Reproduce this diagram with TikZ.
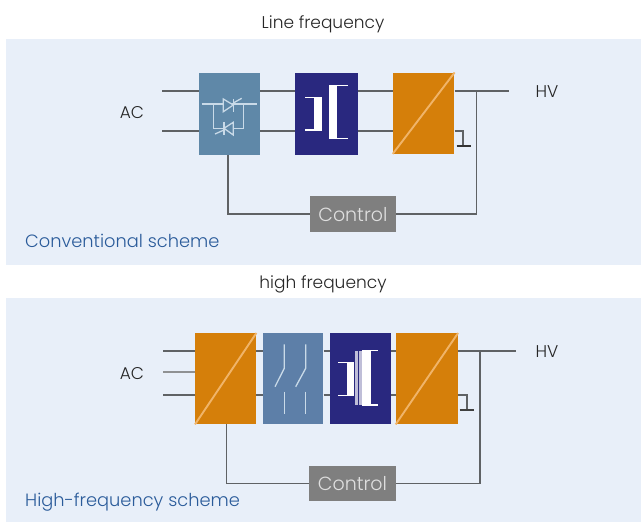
\documentclass[tikz,border=0pt]{standalone}
\usepackage{fontspec}
\setmainfont{Poppins}[UprightFont=* Light]
\definecolor{panel}{HTML}{E8EFF9}
\definecolor{steelA}{HTML}{5F88A8}
\definecolor{steelB}{HTML}{5D7FA8}
\definecolor{navy}{HTML}{29287F}
\definecolor{orangeB}{HTML}{D57F0A}
\definecolor{ctrl}{HTML}{7F7F7F}
\definecolor{wire}{HTML}{5F6265}
\definecolor{schemeblue}{HTML}{2A5B9A}
\definecolor{diag}{HTML}{F0B469}
\definecolor{glyph}{HTML}{C9DAE8}
\tikzset{
  x=1pt,y=-1pt,
  panelbox/.style={fill=panel,draw=none,inner sep=0pt,anchor=north west},
  unit/.style={draw=none,inner sep=0pt,anchor=north west},
  ctrlbox/.style={fill=ctrl,inner sep=0pt,anchor=north west,text=white!75!ctrl,font=\fontsize{19}{19}\selectfont},
  wireline/.style={draw=wire,line width=1.6pt},
  thin wire/.style={draw=wire!70,line width=1.2pt},
  ctlwire/.style={draw=wire,line width=1.5pt},
  groundbar/.style={draw=black!80,line width=2pt},
  lab/.style={inner sep=0pt,text=black!85,font=\fontsize{17}{17}\selectfont},
  schemelab/.style={inner sep=0pt,anchor=west,text=schemeblue,font=\fontsize{17.8}{17.8}\selectfont},
  glyphline/.style={draw=glyph,line width=1.3pt},
  whiteline/.style={draw=white,line width=1.2pt},
  diagline/.style={draw=diag,line width=1.9pt},
}
\begin{document}
\begin{tikzpicture}
\useasboundingbox (0,0) rectangle (641,522);
% panels
\node[panelbox,minimum width=635pt,minimum height=226pt] (p1) at (6,39) {};
\node[panelbox,minimum width=635pt,minimum height=224pt] (p2) at (6,298) {};
% titles
\node[lab] (t1) at (323,24) {Line frequency};
\node[lab] (t2) at (323,284) {high frequency};
\node[lab] (ac1) at (132,113) {AC};
\node[lab] (ac2) at (132,374) {AC};
\node[lab] (hv1) at (547,92) {HV};
\node[lab] (hv2) at (547,352) {HV};
\node[schemelab] (s1) at (25,241) {Conventional scheme};
\node[schemelab] (s2) at (25,502) {High-frequency scheme};
% levels and free ends, scheme 1
\coordinate (a1t) at (162,91);
\coordinate (a1b) at (162,131);
\coordinate (h1) at (509,91);
\coordinate (j1) at (476.7,91);
\coordinate (g1) at (463,146);
\coordinate (g1k) at (463,131);
\coordinate (c1y) at (0,214);
% units, scheme 1
\node[unit,fill=steelA,minimum width=61.5pt,minimum height=82.5pt] (r1) at (198.5,72.5) {};
\node[unit,fill=navy,minimum width=63pt,minimum height=82.5pt] (x1) at (295,72.5) {};
\node[unit,fill=orangeB,minimum width=61.5pt,minimum height=81pt] (o1) at (392.7,72.5) {};
\node[ctrlbox,minimum width=86pt,minimum height=36pt] (c1) at (309.7,196) {Control};
% wires, scheme 1
\draw[wireline] (a1t) -- (r1.west |- a1t);
\draw[wireline] (a1b) -- (r1.west |- a1b);
\draw[wireline] (r1.east |- a1t) -- (x1.west |- a1t);
\draw[wireline] (r1.east |- a1b) -- (x1.west |- a1b);
\draw[wireline] (x1.east |- a1t) -- (o1.west |- a1t);
\draw[wireline] (x1.east |- a1b) -- (o1.west |- a1b);
\draw[wireline] (o1.east |- h1) -- (h1);
\draw[wireline] (o1.east |- g1k) -- (g1k) -- (g1);
\draw[groundbar] (456.5,146) -- (470.5,146);
\draw[ctlwire] (j1) -- (j1 |- c1y) -- (c1.east |- c1y);
\draw[ctlwire] (r1.south -| 228,0) -- (228,214) -- (c1.west |- c1y);
% thyristor glyph
\draw[glyphline] (201.7,104) -- (256.7,104);
\draw[glyphline] (213.3,104) -- (213.3,128.3) -- (243.3,128.3) -- (243.3,104);
\draw[glyphline,fill=steelA] (223.3,99) -- (223.3,111.7) -- (233.3,105) -- cycle;
\draw[glyphline] (233.3,99) -- (233.3,111.7);
\draw[glyphline] (233.3,103) -- (241.7,98.3);
\draw[glyphline,fill=steelA] (233.3,122.3) -- (233.3,135) -- (224,128.3) -- cycle;
\draw[glyphline] (224,122.3) -- (224,135);
\draw[glyphline] (224,130) -- (215,134);
% transformer glyph 1
\fill[white] (314.3,97.7) rectangle (322.3,130);
\draw[whiteline] (305,97.7) -- (322.3,97.7);
\draw[whiteline] (305,130) -- (322.3,130);
\fill[white] (329.3,85.7) rectangle (337.3,138.3);
\draw[whiteline] (329.3,85.7) -- (348.3,85.7);
\draw[whiteline] (329.3,138.3) -- (348.3,138.3);
% diagonal
\draw[diagline] (o1.south west) -- (o1.north east);

% scheme 2
\coordinate (a2t) at (163,351);
\coordinate (a2m) at (163,372);
\coordinate (a2b) at (163,395);
\coordinate (h2) at (516,351);
\coordinate (j2) at (480,351);
\coordinate (g2) at (467,410);
\coordinate (g2k) at (467,395);
\coordinate (c2y) at (0,483.5);
\node[unit,fill=orangeB,minimum width=61pt,minimum height=91pt] (o2) at (195,333) {};
\node[unit,fill=steelB,minimum width=60.5pt,minimum height=91pt] (w2) at (262.7,333) {};
\node[unit,fill=navy,minimum width=61.2pt,minimum height=91pt] (x2) at (329.5,333) {};
\node[unit,fill=orangeB,minimum width=62pt,minimum height=91pt] (o3) at (395.7,333) {};
\node[ctrlbox,minimum width=86.5pt,minimum height=35.5pt] (c2) at (309,465.7) {Control};
\draw[wireline] (a2t) -- (o2.west |- a2t);
\draw[thin wire] (a2m) -- (o2.west |- a2m);
\draw[wireline] (a2b) -- (o2.west |- a2b);
\draw[wireline] (o2.east |- a2t) -- (w2.west |- a2t);
\draw[wireline] (o2.east |- a2b) -- (w2.west |- a2b);
\draw[wireline] (w2.east |- a2t) -- (x2.west |- a2t);
\draw[wireline] (w2.east |- a2b) -- (x2.west |- a2b);
\draw[wireline] (x2.east |- a2t) -- (o3.west |- a2t);
\draw[wireline] (x2.east |- a2b) -- (o3.west |- a2b);
\draw[wireline] (o3.east |- h2) -- (h2);
\draw[wireline] (o3.east |- g2k) -- (g2k) -- (g2);
\draw[draw=black!75,line width=1.6pt] (459.5,410) -- (474,410);
\draw[ctlwire] (j2) -- (j2 |- c2y) -- (c2.east |- c2y);
\draw[ctlwire] (o2.south -| 226.5,0) -- (226.5,483.5) -- (c2.west |- c2y);
% switches
\draw[glyphline] (284.3,344.3) -- (284.3,368.3) -- (275,386.7);
\draw[glyphline] (284.3,391.7) -- (284.3,414.3);
\draw[glyphline] (305.7,344.3) -- (305.7,368.3) -- (295.7,386.7);
\draw[glyphline] (305.7,391.7) -- (305.7,414.3);
% transformer glyph 2
\fill[white] (346.7,362.7) rectangle (354.3,395.7);
\draw[whiteline] (338.3,362.7) -- (354.3,362.7);
\draw[whiteline] (338.3,395.7) -- (354.3,395.7);
\fill[white!70!navy] (355,350.7) rectangle (361.7,405);
\draw[draw=navy,line width=0.7pt] (358.3,350.7) -- (358.3,405);
\fill[white] (362.3,350.7) rectangle (370.7,405);
\draw[whiteline] (362.3,350.7) -- (378.3,350.7);
\draw[whiteline] (362.3,405) -- (378.3,405);
% diagonals
\draw[diagline] (o2.south west) -- (o2.north east);
\draw[diagline] (o3.south west) -- (o3.north east);
\end{tikzpicture}
\end{document}
